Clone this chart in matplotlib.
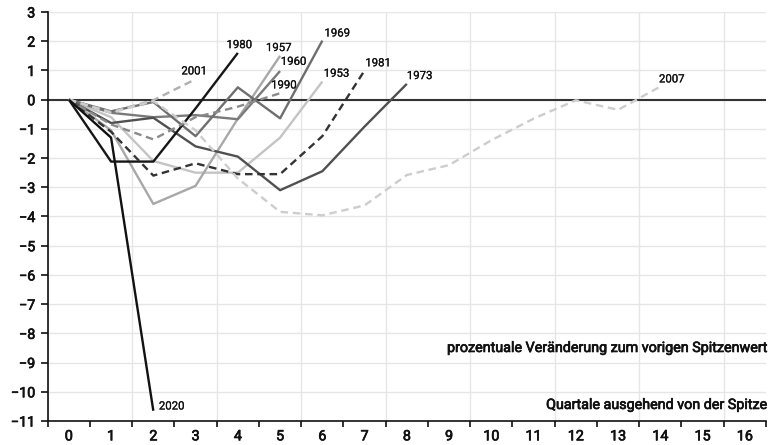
import numpy as np
import matplotlib
matplotlib.use("Agg")
import matplotlib.pyplot as plt
from matplotlib import transforms
import matplotlib.patheffects as pe

plt.rcParams['font.family'] = ['Roboto', 'DejaVu Sans']

# ---- data (percent change vs previous peak, by quarter after the peak) ----
quarters = list(range(17))
years = ["1953", "1957", "1960", "1969", "1973", "1980", "1981", "1990", "2001", "2007", "2020"]
s1953 = [0, -0.6, -2.1, -2.5, -2.5, -1.3, 0.62]
s1957 = [0, -1.05, -3.57, -2.95, -0.65, 1.5]
s1960 = [0, -0.45, -0.6, -0.53, -0.67, 0.98]
s1969 = [0, -0.4, -0.08, -1.25, 0.42, -0.64, 2.02]
s1973 = [0, -0.8, -0.62, -1.6, -1.95, -3.1, -2.45, -0.92, 0.54]
s1980 = [0, -2.12, -2.12, -0.3, 1.6]
s1981 = [0, -1.1, -2.6, -2.18, -2.55, -2.55, -1.25, 1.0]
s1990 = [0, -0.85, -1.36, -0.6, -0.24, 0.22]
s2001 = [0, -0.42, -0.02, 0.7]
s2007 = [0, -0.45, -0.05, -1.05, -2.7, -3.84, -3.96, -3.62, -2.58, -2.24, -1.39, -0.65, -0.02, -0.35, 0.45]
s2020 = [0, -1.3, -10.65]
series = [s1953, s1957, s1960, s1969, s1973, s1980, s1981, s1990, s2001, s2007, s2020]
yticks = list(range(-11, 4))
ylabel_text = "prozentuale Veränderung zum vorigen Spitzenwert"
xlabel_text = "Quartale ausgehend von der Spitze"

# ---- styles ----
styles = {
    "1953": dict(color="#c4c4c4", ls="solid"),
    "1957": dict(color="#a8a8a8", ls="solid"),
    "1960": dict(color="#7a7a7a", ls="solid"),
    "1969": dict(color="#6e6e6e", ls="solid"),
    "1973": dict(color="#505050", ls="solid"),
    "1980": dict(color="#161616", ls="solid"),
    "1981": dict(color="#333333", ls="dashed"),
    "1990": dict(color="#8a8a8a", ls="dashed"),
    "2001": dict(color="#b0b0b0", ls="dashed"),
    "2007": dict(color="#cdcdcd", ls="dashed"),
    "2020": dict(color="#111111", ls="solid"),
}
# label placement relative to line end (points): (dx, dy, ha)
label_pos = {
    "1953": (1, 2, "left"),
    "1957": (-1, 2, "center"),
    "1960": (0.5, 3, "left"),
    "1969": (1.5, 1.5, "left"),
    "1973": (0, 2, "left"),
    "1980": (1, 2, "center"),
    "1981": (0.5, 1.5, "left"),
    "1990": (-6.5, 2, "left"),
    "2001": (-1, 2, "center"),
    "2007": (-1, 1.5, "left"),
    "2020": (4, -0.5, "left"),
}

heavy = [pe.withStroke(linewidth=0.5, foreground="#111111")]
heavy_small = [pe.withStroke(linewidth=0.15, foreground="#111111")]

fig = plt.figure(figsize=(7.72, 4.45), dpi=100)
ax = fig.add_axes([47.7 / 772, 1 - 421 / 445, (766 - 47.7) / 772, (421 - 12) / 445])

ax.set_xlim(-0.5, 16.5)
ax.set_ylim(-11, 3)

# grid
ax.set_yticks(yticks)
ax.yaxis.grid(True, color="#e6e6e6", lw=1.0, zorder=0)
for b in np.arange(-0.5, 16.5, 2):
    ax.axvline(b, color="#e6e6e6", lw=1.0, zorder=0)
ax.set_axisbelow(True)

# zero line
ax.axhline(0, color="#333333", lw=1.5, zorder=1)

for yr, vals in zip(years, series):
    st = styles[yr]
    kw = dict(color=st["color"], lw=1.7, zorder=3, solid_capstyle="butt", dash_capstyle="butt")
    if st["ls"] == "dashed":
        kw["dashes"] = (3.2, 2.0)
    xs = quarters[:len(vals)]
    ax.plot(xs, vals, **kw)
    dx, dy, ha = label_pos[yr]
    t = ax.annotate(yr, (xs[-1], vals[-1]), xytext=(dx, dy), textcoords="offset points",
                    ha=ha, va="bottom", fontsize=8.2, color="#111111", zorder=4)
    t.set_path_effects(heavy_small)

# axes styling
for s in ["top", "right"]:
    ax.spines[s].set_visible(False)
ax.spines["left"].set_linewidth(1.2)
ax.spines["bottom"].set_linewidth(1.2)
ax.spines["left"].set_color("#111111")
ax.spines["bottom"].set_color("#111111")

ax.set_yticklabels([("\u2212" + str(abs(t))) if t < 0 else str(t) for t in yticks])
ax.tick_params(axis="y", length=5, width=1.2, pad=4, labelsize=10.3, colors="#111111")

ax.set_xticks(np.arange(-0.5, 17, 1))
ax.set_xticklabels([])
ax.set_xticks(quarters, minor=True)
ax.set_xticklabels([str(q) for q in quarters], minor=True)
ax.tick_params(axis="x", which="major", length=4.5, width=1.2, colors="#111111")
ax.tick_params(axis="x", which="minor", length=0, pad=6, labelsize=10.3, labelcolor="#111111")

for lab in ax.get_yticklabels() + ax.get_xticklabels(minor=True):
    lab.set_path_effects(heavy)

trans = transforms.blended_transform_factory(ax.transAxes, ax.transData)
ax.text(1.0, -8.5, ylabel_text, transform=trans, ha="right", va="center", fontsize=10.3,
        color="#111111", path_effects=heavy)
ax.text(1.0, -10.45, xlabel_text, transform=trans, ha="right", va="center", fontsize=10.3,
        color="#111111", path_effects=heavy)

fig.savefig("out.png", dpi=100)
